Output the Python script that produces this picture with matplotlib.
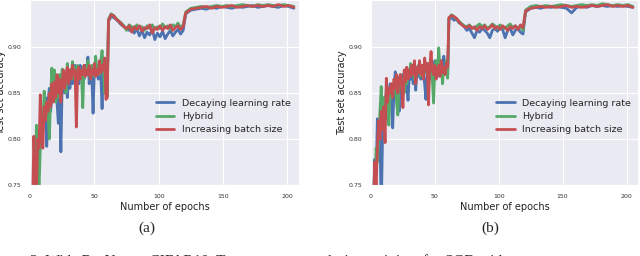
import matplotlib
matplotlib.use("Agg")
import matplotlib.pyplot as plt
import seaborn as sns

EPOCHS = list(range(1, 61)) + list(range(61, 121, 2)) + list(range(121, 206, 4))

LABELS = ["Decaying learning rate", "Hybrid", "Increasing batch size"]
COLORS = ["#4C72B0", "#55A868", "#C44E52"]

# ---- panel (a) ----
A_DECAY = [
    0.700, 0.720, 0.740, 0.745, 0.760, 0.790, 0.800, 0.795, 0.810, 0.830,
    0.820, 0.845, 0.792, 0.840, 0.855, 0.830, 0.845, 0.860, 0.850, 0.865,
    0.840, 0.817, 0.855, 0.786, 0.860, 0.872, 0.850, 0.865, 0.845, 0.870,
    0.855, 0.875, 0.860, 0.870, 0.880, 0.865, 0.875, 0.860, 0.880, 0.870,
    0.875, 0.865, 0.880, 0.870, 0.889, 0.860, 0.875, 0.870, 0.828, 0.875,
    0.870, 0.880, 0.865, 0.875, 0.870, 0.833, 0.878, 0.870, 0.885, 0.860,
    0.928, 0.933, 0.932, 0.930, 0.927, 0.924, 0.922, 0.920, 0.918, 0.921,
    0.915, 0.920, 0.912, 0.918, 0.910, 0.916, 0.913, 0.919, 0.908, 0.915,
    0.911, 0.917, 0.909, 0.914, 0.918, 0.912, 0.916, 0.919, 0.914, 0.918,
    0.936, 0.940, 0.941, 0.942, 0.941, 0.943, 0.942, 0.944, 0.943, 0.942,
    0.944, 0.943, 0.944, 0.945, 0.943, 0.944, 0.945, 0.944, 0.943, 0.945,
    0.944, 0.942,
]
A_HYBRID = [
    0.680, 0.700, 0.720, 0.740, 0.815, 0.780, 0.745, 0.790, 0.830, 0.815,
    0.852, 0.825, 0.840, 0.830, 0.800, 0.845, 0.877, 0.850, 0.875, 0.840,
    0.860, 0.845, 0.870, 0.855, 0.876, 0.860, 0.870, 0.850, 0.882, 0.862,
    0.875, 0.868, 0.884, 0.865, 0.878, 0.870, 0.880, 0.865, 0.875, 0.870,
    0.834, 0.880, 0.875, 0.870, 0.885, 0.872, 0.865, 0.880, 0.875, 0.868,
    0.890, 0.875, 0.880, 0.870, 0.885, 0.896, 0.875, 0.850, 0.880, 0.846,
    0.930, 0.936, 0.934, 0.931, 0.928, 0.926, 0.923, 0.918, 0.924, 0.922,
    0.919, 0.924, 0.920, 0.922, 0.918, 0.923, 0.920, 0.924, 0.919, 0.922,
    0.920, 0.925, 0.921, 0.923, 0.919, 0.924, 0.922, 0.926, 0.921, 0.924,
    0.938, 0.942, 0.943, 0.944, 0.943, 0.944, 0.945, 0.944, 0.945, 0.944,
    0.945, 0.946, 0.945, 0.944, 0.946, 0.945, 0.946, 0.945, 0.945, 0.946,
    0.945, 0.944,
]
A_BATCH = [
    0.700, 0.730, 0.803, 0.760, 0.740, 0.800, 0.790, 0.848, 0.800, 0.790,
    0.835, 0.820, 0.840, 0.830, 0.850, 0.835, 0.860, 0.840, 0.862, 0.845,
    0.870, 0.850, 0.865, 0.840, 0.860, 0.875, 0.855, 0.870, 0.878, 0.860,
    0.875, 0.865, 0.880, 0.870, 0.875, 0.813, 0.870, 0.878, 0.865, 0.875,
    0.870, 0.880, 0.868, 0.875, 0.870, 0.880, 0.865, 0.875, 0.870, 0.882,
    0.868, 0.875, 0.870, 0.885, 0.872, 0.880, 0.875, 0.888, 0.843, 0.845,
    0.929, 0.935, 0.934, 0.930, 0.928, 0.925, 0.922, 0.920, 0.923, 0.916,
    0.922, 0.919, 0.923, 0.917, 0.921, 0.920, 0.924, 0.915, 0.921, 0.919,
    0.923, 0.918, 0.922, 0.920, 0.924, 0.918, 0.921, 0.923, 0.919, 0.922,
    0.937, 0.941, 0.942, 0.943, 0.944, 0.942, 0.944, 0.943, 0.944, 0.945,
    0.943, 0.944, 0.945, 0.944, 0.945, 0.944, 0.945, 0.944, 0.946, 0.944,
    0.945, 0.943,
]

# ---- panel (b) ----
B_DECAY = [
    0.700, 0.740, 0.778, 0.760, 0.822, 0.780, 0.805, 0.720, 0.800, 0.840,
    0.820, 0.855, 0.835, 0.850, 0.860, 0.845, 0.812, 0.855, 0.873, 0.850,
    0.862, 0.830, 0.868, 0.855, 0.870, 0.860, 0.875, 0.858, 0.842, 0.870,
    0.865, 0.878, 0.860, 0.872, 0.853, 0.875, 0.868, 0.880, 0.865, 0.875,
    0.870, 0.860, 0.843, 0.878, 0.870, 0.880, 0.865, 0.875, 0.870, 0.885,
    0.875, 0.868, 0.880, 0.872, 0.885, 0.878, 0.890, 0.875, 0.882, 0.870,
    0.930, 0.932, 0.929, 0.930, 0.926, 0.925, 0.922, 0.918, 0.920, 0.915,
    0.910, 0.918, 0.916, 0.920, 0.918, 0.915, 0.910, 0.918, 0.920, 0.917,
    0.921, 0.919, 0.910, 0.918, 0.920, 0.913, 0.918, 0.920, 0.916, 0.914,
    0.938, 0.942, 0.943, 0.942, 0.944, 0.943, 0.944, 0.943, 0.942, 0.937,
    0.943, 0.944, 0.943, 0.945, 0.944, 0.945, 0.944, 0.945, 0.944, 0.945,
    0.944, 0.943,
]
B_HYBRID = [
    0.690, 0.720, 0.750, 0.790, 0.775, 0.800, 0.830, 0.857, 0.820, 0.845,
    0.830, 0.850, 0.840, 0.815, 0.855, 0.845, 0.860, 0.850, 0.865, 0.840,
    0.826, 0.860, 0.870, 0.855, 0.865, 0.850, 0.872, 0.860, 0.875, 0.868,
    0.882, 0.870, 0.875, 0.865, 0.878, 0.870, 0.880, 0.875, 0.868, 0.880,
    0.870, 0.885, 0.872, 0.878, 0.870, 0.883, 0.875, 0.865, 0.839, 0.878,
    0.885, 0.872, 0.899, 0.875, 0.880, 0.860, 0.878, 0.870, 0.885, 0.866,
    0.931, 0.935, 0.933, 0.930, 0.928, 0.925, 0.923, 0.922, 0.924, 0.921,
    0.920, 0.923, 0.925, 0.922, 0.924, 0.920, 0.922, 0.925, 0.923, 0.920,
    0.924, 0.922, 0.920, 0.923, 0.925, 0.921, 0.923, 0.920, 0.922, 0.918,
    0.940, 0.944, 0.945, 0.944, 0.945, 0.944, 0.945, 0.946, 0.945, 0.944,
    0.945, 0.946, 0.945, 0.946, 0.945, 0.947, 0.946, 0.945, 0.946, 0.945,
    0.946, 0.944,
]
B_BATCH = [
    0.700, 0.730, 0.775, 0.750, 0.790, 0.820, 0.800, 0.830, 0.810, 0.835,
    0.796, 0.866, 0.840, 0.855, 0.850, 0.860, 0.845, 0.865, 0.855, 0.870,
    0.850, 0.865, 0.870, 0.858, 0.834, 0.875, 0.862, 0.878, 0.865, 0.875,
    0.868, 0.880, 0.870, 0.885, 0.860, 0.878, 0.872, 0.885, 0.870, 0.880,
    0.865, 0.888, 0.875, 0.882, 0.837, 0.878, 0.895, 0.875, 0.870, 0.880,
    0.865, 0.875, 0.880, 0.868, 0.885, 0.872, 0.878, 0.870, 0.882, 0.878,
    0.932, 0.934, 0.933, 0.931, 0.927, 0.924, 0.922, 0.921, 0.923, 0.920,
    0.922, 0.918, 0.922, 0.920, 0.923, 0.919, 0.921, 0.924, 0.920, 0.922,
    0.919, 0.923, 0.921, 0.918, 0.922, 0.920, 0.923, 0.919, 0.924, 0.921,
    0.939, 0.942, 0.943, 0.944, 0.943, 0.944, 0.943, 0.944, 0.945, 0.943,
    0.944, 0.943, 0.944, 0.945, 0.944, 0.945, 0.946, 0.944, 0.945, 0.944,
    0.945, 0.943,
]

PANELS = [
    ("(a)", [A_DECAY, A_HYBRID, A_BATCH]),
    ("(b)", [B_DECAY, B_HYBRID, B_BATCH]),
]
CAPTION = "3: Wide ResNet on CIFAR10. Test set accuracy during training, for SGD with"

sns.set_style("darkgrid")
plt.rcParams["font.family"] = ["DejaVu Sans"]

fig = plt.figure(figsize=(6.4, 2.56), dpi=100)
axes_rects = [
    [30 / 640, 71 / 256, 269 / 640, 185 / 256],
    [371 / 640, 71 / 256, 267 / 640, 185 / 256],
]
caption_x = [147 / 640, 490 / 640]

for (tag, series), rect, cx in zip(PANELS, axes_rects, caption_x):
    ax = fig.add_axes(rect)
    for vals, lab, col in zip(series, LABELS, COLORS):
        ax.plot(EPOCHS, vals, color=col, lw=2.0, label=lab)
    ax.set_xlim(0, 209)
    ax.set_ylim(0.75, 0.951)
    ax.set_xticks([0, 50, 100, 150, 200])
    ax.set_yticks([0.75, 0.80, 0.85, 0.90])
    ax.tick_params(labelsize=4.5, pad=3, colors="#333333")
    ax.set_xlabel("Number of epochs", fontsize=7, labelpad=2, color="#222222")
    ax.set_ylabel("Test set accuracy", fontsize=7, labelpad=1, color="#222222")
    ax.legend(loc="center left", bbox_to_anchor=(0.435, 0.37), frameon=False,
              fontsize=6.8, handlelength=2.0, handletextpad=0.8, labelspacing=0.45)
    fig.text(cx, 28 / 256, tag, ha="center", va="center",
             family="Liberation Serif", fontsize=11)

# caption of the page, only the top of its glyphs falls inside the crop
fig.text(30 / 640, -0.034, CAPTION, ha="left", va="baseline",
         family="Liberation Serif", fontsize=11)

fig.savefig("out.png", dpi=100)
